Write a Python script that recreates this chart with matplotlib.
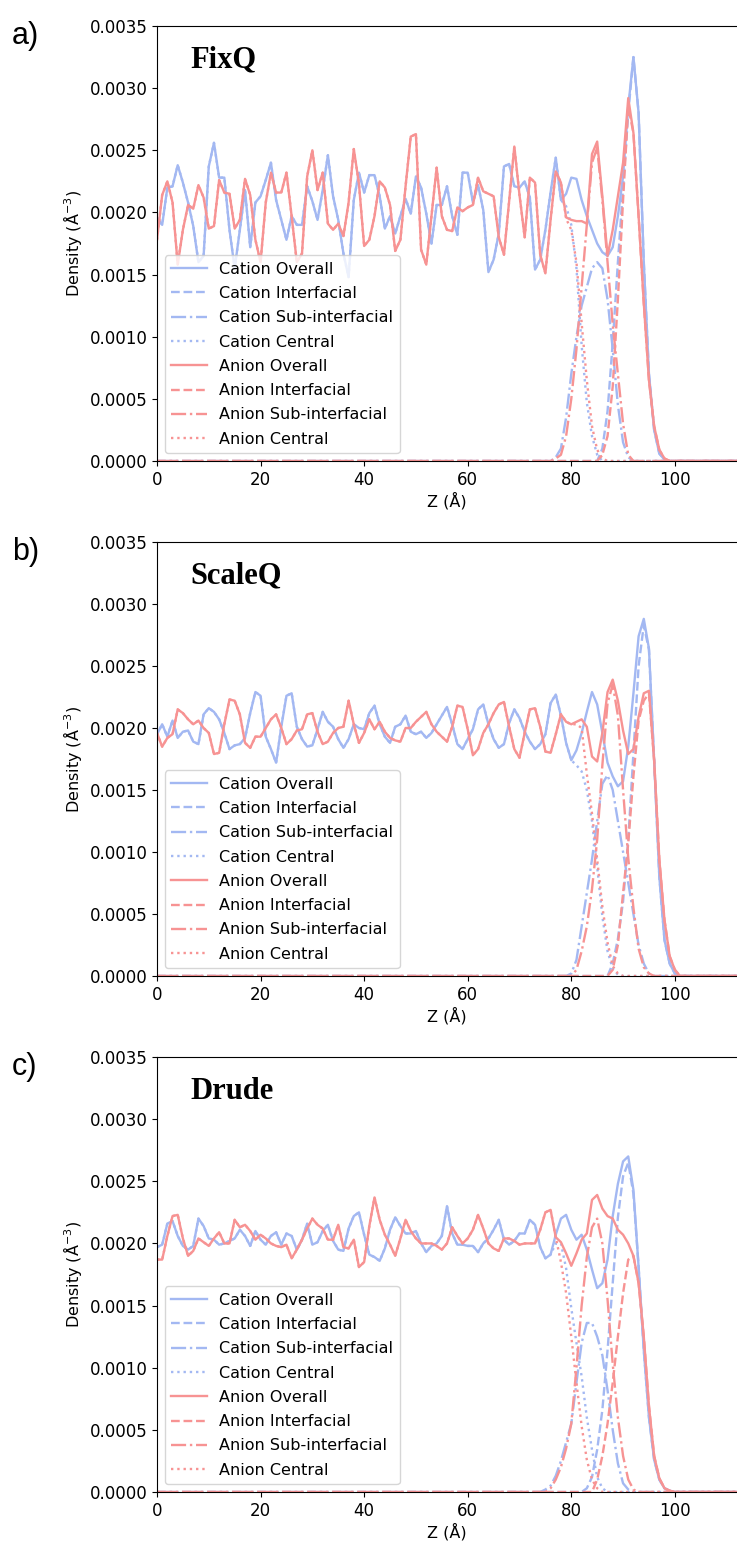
import numpy as np
import matplotlib
matplotlib.use("Agg")
import matplotlib.pyplot as plt

# z grid (Angstrom)
z = np.arange(0, 113)
z_edge = np.arange(74, 101)

# ---- FixQ ----
fixq_cat = [0.00196, 0.00190, 0.00220, 0.00221, 0.00238, 0.00224, 0.00208, 0.00189, 0.00160, 0.00165,
            0.00237, 0.00256, 0.00228, 0.00228, 0.00186, 0.00155, 0.00186, 0.00218, 0.00172, 0.00208,
            0.00213, 0.00226, 0.00240, 0.00210, 0.00194, 0.00178, 0.00197, 0.00190, 0.00190, 0.00221,
            0.00209, 0.00194, 0.00218, 0.00246, 0.00213, 0.00194, 0.00167, 0.00148, 0.00210, 0.00232,
            0.00216, 0.00230, 0.00230, 0.00213, 0.00187, 0.00197, 0.00183, 0.00197, 0.00211, 0.00199,
            0.00229, 0.00220, 0.00199, 0.00175, 0.00206, 0.00206, 0.00221, 0.00197, 0.00182, 0.00232,
            0.00232, 0.00208, 0.00222, 0.00202, 0.00152, 0.00162, 0.00183, 0.00237, 0.00239, 0.00221,
            0.00220, 0.00225, 0.00212, 0.00154, 0.00162, 0.00186, 0.00216, 0.00244, 0.00210, 0.00215,
            0.00228, 0.00227, 0.00210, 0.00197, 0.00186, 0.00175, 0.00168, 0.00165, 0.00172, 0.00197,
            0.00229, 0.00285, 0.00325, 0.00280, 0.00160, 0.00070, 0.00025, 0.00006, 0.00001, 0.0, 0.0]
fixq_an = [0.00178, 0.00214, 0.00225, 0.00208, 0.00158, 0.00186, 0.00206, 0.00203, 0.00222, 0.00212,
           0.00187, 0.00189, 0.00226, 0.00216, 0.00215, 0.00187, 0.00194, 0.00227, 0.00214, 0.00178,
           0.00160, 0.00208, 0.00232, 0.00216, 0.00216, 0.00232, 0.00197, 0.00160, 0.00167, 0.00229,
           0.00250, 0.00218, 0.00232, 0.00191, 0.00186, 0.00191, 0.00181, 0.00208, 0.00251, 0.00223,
           0.00173, 0.00178, 0.00197, 0.00225, 0.00220, 0.00206, 0.00169, 0.00178, 0.00221, 0.00261,
           0.00263, 0.00170, 0.00158, 0.00197, 0.00236, 0.00197, 0.00186, 0.00185, 0.00204, 0.00201,
           0.00204, 0.00206, 0.00228, 0.00217, 0.00215, 0.00213, 0.00180, 0.00166, 0.00209, 0.00253,
           0.00214, 0.00180, 0.00228, 0.00224, 0.00166, 0.00151, 0.00194, 0.00233, 0.00224, 0.00196,
           0.00194, 0.00193, 0.00193, 0.00191, 0.00247, 0.00257, 0.00213, 0.00165, 0.00186, 0.00213,
           0.00240, 0.00292, 0.00264, 0.00197, 0.00127, 0.00065, 0.00028, 0.00009, 0.00002, 0.0, 0.0]
# components on z_edge (74..100)
fixq_cat_int = [0]*11 + [0, 0.0001, 0.0004, 0.00095, 0.0016, 0.0022, 0.0028, 0.00325, 0.0028, 0.0016,
                         0.0007, 0.00025, 0.00006, 0.00001, 0, 0]
fixq_cat_sub = [0, 0, 0, 0.00003, 0.0001, 0.00035, 0.0007, 0.001, 0.00125, 0.0014, 0.00155, 0.0016,
                0.00155, 0.0013, 0.0009, 0.00045, 0.00015, 0.00003] + [0]*9
fixq_cat_cen = [0.00162, 0.00186, 0.00216, 0.00244, 0.00210, 0.00205, 0.00190, 0.00155, 0.00093,
                0.00047, 0.00020, 0.00005] + [0]*15
fixq_an_int = [0]*12 + [0.00005, 0.0002, 0.0006, 0.0013, 0.0021, 0.00285, 0.00264, 0.00197, 0.00127,
                        0.00065, 0.00028, 0.00009, 0.00002, 0, 0]
fixq_an_sub = [0, 0, 0, 0.00002, 0.00005, 0.0002, 0.0005, 0.0009, 0.0014, 0.0019, 0.0024, 0.00252,
               0.0021, 0.0016, 0.0011, 0.0007, 0.0003, 0.00005] + [0]*9
fixq_an_cen = [0.00166, 0.00151, 0.00194, 0.00233, 0.00224, 0.00195, 0.00186, 0.0016, 0.00111,
               0.00065, 0.00028, 0.00009, 0.00002] + [0]*14

# ---- ScaleQ ----
scaleq_cat = [0.00195, 0.00203, 0.00193, 0.00206, 0.00192, 0.00197, 0.00198, 0.00189, 0.00187, 0.00211,
              0.00216, 0.00213, 0.00207, 0.00196, 0.00183, 0.00186, 0.00187, 0.00192, 0.00212, 0.00229,
              0.00226, 0.00193, 0.00183, 0.00172, 0.00201, 0.00226, 0.00228, 0.00201, 0.00191, 0.00185,
              0.00186, 0.00199, 0.00213, 0.00205, 0.00201, 0.00191, 0.00184, 0.00191, 0.00203, 0.00200,
              0.00199, 0.00212, 0.00218, 0.00203, 0.00193, 0.00188, 0.00201, 0.00203, 0.00210, 0.00197,
              0.00195, 0.00197, 0.00192, 0.00196, 0.00203, 0.00210, 0.00217, 0.00203, 0.00187, 0.00183,
              0.00191, 0.00199, 0.00215, 0.00219, 0.00203, 0.00191, 0.00184, 0.00187, 0.00204, 0.00215,
              0.00208, 0.00197, 0.00189, 0.00183, 0.00187, 0.00195, 0.00220, 0.00227, 0.00210, 0.00188,
              0.00174, 0.00182, 0.00196, 0.00213, 0.00229, 0.00219, 0.00196, 0.00172, 0.00161, 0.00153,
              0.00157, 0.00185, 0.00228, 0.00274, 0.00288, 0.00264, 0.00174, 0.00080, 0.00029, 0.00010, 0.00002]
scaleq_an = [0.00196, 0.00185, 0.00192, 0.00195, 0.00215, 0.00212, 0.00207, 0.00203, 0.00206, 0.00200,
             0.00196, 0.00179, 0.00180, 0.00203, 0.00223, 0.00222, 0.00211, 0.00188, 0.00184, 0.00193,
             0.00193, 0.00200, 0.00207, 0.00211, 0.00200, 0.00187, 0.00191, 0.00198, 0.00199, 0.00211,
             0.00212, 0.00197, 0.00187, 0.00189, 0.00196, 0.00200, 0.00201, 0.00222, 0.00203, 0.00188,
             0.00196, 0.00207, 0.00199, 0.00205, 0.00197, 0.00192, 0.00190, 0.00189, 0.00200, 0.00200,
             0.00205, 0.00209, 0.00213, 0.00203, 0.00197, 0.00193, 0.00189, 0.00201, 0.00218, 0.00217,
             0.00199, 0.00178, 0.00183, 0.00196, 0.00203, 0.00212, 0.00219, 0.00221, 0.00201, 0.00183,
             0.00176, 0.00196, 0.00215, 0.00216, 0.00201, 0.00181, 0.00180, 0.00195, 0.00211, 0.00205,
             0.00203, 0.00205, 0.00207, 0.00201, 0.00177, 0.00173, 0.00196, 0.00229, 0.00239, 0.00222,
             0.00198, 0.00179, 0.00183, 0.00209, 0.00228, 0.00230, 0.00174, 0.00094, 0.00045, 0.00016, 0.00005]
scaleq_cat_int = [0]*14 + [0.0001, 0.0003, 0.0006, 0.0011, 0.0018, 0.0025, 0.00283, 0.00263, 0.00174,
                           0.0008, 0.00029, 0.0001, 0.00002]
scaleq_cat_sub = [0]*6 + [0.00002, 0.00013, 0.0004, 0.00067, 0.00094, 0.00125, 0.00155, 0.00162, 0.0015,
                          0.00125, 0.001, 0.00075, 0.0005, 0.00025, 0.0001, 0.00002] + [0]*5
scaleq_cat_cen = [0.00187, 0.00195, 0.0022, 0.00227, 0.0021, 0.00188, 0.00174, 0.0017, 0.00165, 0.0015,
                  0.00125, 0.00088, 0.00048, 0.0002, 0.00006, 0.00001] + [0]*11
scaleq_an_int = [0]*14 + [0.00005, 0.00025, 0.00067, 0.00107, 0.00161, 0.00206, 0.00222, 0.00228,
                          0.00174, 0.00094, 0.00045, 0.00016, 0.00005]
scaleq_an_sub = [0]*7 + [0.00005, 0.0002, 0.0004, 0.0007, 0.0011, 0.0017, 0.0022, 0.00235, 0.0021,
                         0.0015, 0.00095, 0.00055, 0.00022, 0.00007, 0.00002] + [0]*5
scaleq_an_cen = [0.00201, 0.00181, 0.0018, 0.00195, 0.00211, 0.00205, 0.00203, 0.00203, 0.002, 0.00163,
                 0.00131, 0.00094, 0.00056, 0.00027, 0.00008, 0.00002] + [0]*11

# ---- Drude ----
drude_cat = [0.00197, 0.00199, 0.00216, 0.00218, 0.00206, 0.00198, 0.00195, 0.00198, 0.00220, 0.00214,
             0.00204, 0.00203, 0.00199, 0.00200, 0.00202, 0.00204, 0.00211, 0.00206, 0.00198, 0.00210,
             0.00203, 0.00199, 0.00206, 0.00209, 0.00199, 0.00208, 0.00206, 0.00195, 0.00203, 0.00216,
             0.00199, 0.00201, 0.00210, 0.00215, 0.00202, 0.00195, 0.00194, 0.00212, 0.00222, 0.00225,
             0.00207, 0.00191, 0.00189, 0.00186, 0.00196, 0.00211, 0.00221, 0.00214, 0.00208, 0.00208,
             0.00210, 0.00200, 0.00193, 0.00198, 0.00200, 0.00206, 0.00230, 0.00208, 0.00199, 0.00199,
             0.00198, 0.00198, 0.00193, 0.00200, 0.00204, 0.00211, 0.00219, 0.00203, 0.00199, 0.00202,
             0.00208, 0.00208, 0.00219, 0.00215, 0.00197, 0.00188, 0.00191, 0.00207, 0.00220, 0.00223,
             0.00211, 0.00203, 0.00207, 0.00195, 0.00179, 0.00164, 0.00168, 0.00187, 0.00222, 0.00248,
             0.00266, 0.00270, 0.00243, 0.00181, 0.00114, 0.00060, 0.00026, 0.00010, 0.00003, 0.00001, 0.0]
drude_an = [0.00187, 0.00187, 0.00206, 0.00222, 0.00223, 0.00204, 0.00190, 0.00194, 0.00204, 0.00201,
            0.00198, 0.00204, 0.00209, 0.00200, 0.00200, 0.00219, 0.00213, 0.00215, 0.00210, 0.00203,
            0.00207, 0.00204, 0.00200, 0.00198, 0.00197, 0.00199, 0.00188, 0.00195, 0.00203, 0.00212,
            0.00220, 0.00215, 0.00212, 0.00203, 0.00203, 0.00215, 0.00197, 0.00196, 0.00203, 0.00181,
            0.00185, 0.00214, 0.00237, 0.00219, 0.00207, 0.00199, 0.00190, 0.00204, 0.00219, 0.00210,
            0.00204, 0.00200, 0.00200, 0.00200, 0.00198, 0.00195, 0.00200, 0.00213, 0.00206, 0.00200,
            0.00204, 0.00211, 0.00223, 0.00212, 0.00200, 0.00196, 0.00194, 0.00204, 0.00204, 0.00202,
            0.00199, 0.00200, 0.00200, 0.00200, 0.00211, 0.00225, 0.00227, 0.00205, 0.00201, 0.00192,
            0.00182, 0.00192, 0.00203, 0.00208, 0.00235, 0.00239, 0.00228, 0.00222, 0.00220, 0.00211,
            0.00207, 0.00200, 0.00190, 0.00168, 0.00125, 0.00069, 0.00029, 0.00011, 0.00003, 0.00001, 0.0]
drude_cat_int = [0]*9 + [0.00003, 0.00012, 0.00034, 0.00066, 0.00114, 0.00168, 0.00221, 0.00254, 0.00265,
                         0.0024, 0.00181, 0.00114, 0.0006, 0.00026, 0.0001, 0.00003, 0.00001, 0]
drude_cat_sub = [0, 0.00002, 0.00005, 0.00013, 0.00025, 0.0004, 0.00055, 0.00088, 0.0012, 0.00136,
                 0.00136, 0.00125, 0.0011, 0.00082, 0.0005, 0.00023, 0.00007, 0.00002] + [0]*9
drude_cat_cen = [0.00197, 0.00188, 0.00191, 0.00200, 0.0020, 0.0018, 0.00148, 0.0012, 0.00093, 0.0006,
                 0.00034, 0.00012, 0.00003] + [0]*14
drude_an_int = [0]*11 + [0.0001, 0.00029, 0.00055, 0.00088, 0.00125, 0.0016, 0.00187, 0.0019, 0.00168,
                         0.00125, 0.00069, 0.00029, 0.00011, 0.00003, 0.00001, 0]
drude_an_sub = [0, 0, 0.00003, 0.0001, 0.0002, 0.00035, 0.00055, 0.001, 0.0015, 0.00189, 0.00213, 0.0022,
                0.002, 0.00155, 0.00103, 0.0006, 0.00029, 0.0001, 0.00002] + [0]*8
drude_an_cen = [0.00211, 0.00225, 0.00227, 0.00205, 0.00185, 0.0016, 0.00125, 0.00088, 0.00053, 0.00026,
                0.0001, 0.00003] + [0]*15

panels = [
    ("a)", "FixQ", fixq_cat, fixq_cat_int, fixq_cat_sub, fixq_cat_cen,
     fixq_an, fixq_an_int, fixq_an_sub, fixq_an_cen),
    ("b)", "ScaleQ", scaleq_cat, scaleq_cat_int, scaleq_cat_sub, scaleq_cat_cen,
     scaleq_an, scaleq_an_int, scaleq_an_sub, scaleq_an_cen),
    ("c)", "Drude", drude_cat, drude_cat_int, drude_cat_sub, drude_cat_cen,
     drude_an, drude_an_int, drude_an_sub, drude_an_cen),
]


def full(overall):
    v = np.zeros(len(z))
    v[:len(overall)] = overall
    return v


def comp(edge, overall=None):
    v = np.zeros(len(z))
    if overall is not None:
        v[:z_edge[0]] = overall[:z_edge[0]]
    v[z_edge[0]:z_edge[0] + len(edge)] = edge
    return v


blue = '#a3b8f2'
red = '#f79393'
lw = 1.7

fig = plt.figure(figsize=(7.37, 15.45), dpi=100)
tops = [26, 542, 1057]
bots = [461, 976, 1492]
H = 1545.0
for i, p in enumerate(panels):
    lab, title, cat, cat_i, cat_s, cat_c, an, an_i, an_s, an_c = p
    b = 1 - bots[i] / H
    h = (bots[i] - tops[i]) / H
    ax = fig.add_axes([157 / 737, b, 1 - 157 / 737, h])
    cat_o = full(cat)
    an_o = full(an)
    ax.plot(z, cat_o, color=blue, lw=lw, ls='-', label='Cation Overall')
    ax.plot(z, comp(cat_i), color=blue, lw=lw, ls='--', label='Cation Interfacial')
    ax.plot(z, comp(cat_s), color=blue, lw=lw, ls='-.', label='Cation Sub-interfacial')
    ax.plot(z, comp(cat_c, cat_o), color=blue, lw=lw, ls=':', label='Cation Central')
    ax.plot(z, an_o, color=red, lw=lw, ls='-', label='Anion Overall')
    ax.plot(z, comp(an_i), color=red, lw=lw, ls='--', label='Anion Interfacial')
    ax.plot(z, comp(an_s), color=red, lw=lw, ls='-.', label='Anion Sub-interfacial')
    ax.plot(z, comp(an_c, an_o), color=red, lw=lw, ls=':', label='Anion Central')
    ax.set_xlim(0, 112)
    ax.set_ylim(0, 0.0035)
    ax.set_yticks(np.arange(0, 0.00351, 0.0005))
    ax.set_yticklabels(['%.4f' % t for t in np.arange(0, 0.00351, 0.0005)])
    ax.set_xticks([0, 20, 40, 60, 80, 100])
    ax.tick_params(labelsize=12)
    ax.spines['right'].set_visible(False)
    ax.set_xlabel('Z (Å)', fontsize=11.5, labelpad=2)
    ax.set_ylabel('Density (Å$^{-3}$)', fontsize=11.5)
    ax.legend(loc='lower left', fontsize=11.5, handlelength=2.2, labelspacing=0.58)
    ax.text(0.058, 0.904, title, transform=ax.transAxes, fontsize=22,
            fontweight='bold', family='Liberation Serif', va='baseline')
    fig.text(12 / 737, 1 - (tops[i] + 10) / H, lab, fontsize=22,
             family='Liberation Sans', va='center', ha='left')

fig.savefig('out.png', dpi=100)
